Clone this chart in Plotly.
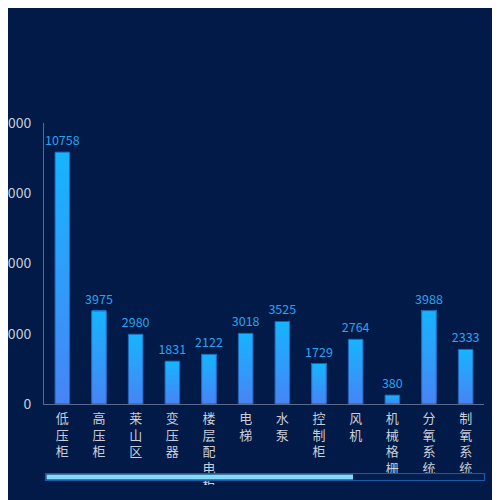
import plotly.graph_objects as go

categories = ["低压柜", "高压柜", "莱山区", "变压器", "楼层配电柜", "电梯", "水泵",
              "控制柜", "风机", "机械格栅", "分氧系统", "制氧系统"]
values = [10758, 3975, 2980, 1831, 2122, 3018, 3525, 1729, 2764, 380, 3988, 2333]
y_ticks = [0, 3000, 6000, 9000, 12000]

BG = "#011a48"
TOP = (0x17, 0xb4, 0xff)
BOT = (0x47, 0x85, 0xf5)
N = 40

fig = go.Figure()

def mix(t):
    r = [round(BOT[k] + (TOP[k] - BOT[k]) * t) for k in range(3)]
    return "rgb(%d,%d,%d)" % tuple(r)

# gradient: each layer spans from a rising base up to the bar top
for i in range(N):
    fig.add_trace(go.Bar(
        x=categories,
        y=[v * (N - i) / N for v in values],
        base=[v * i / N for v in values],
        marker=dict(color=mix(i / (N - 1)), line=dict(width=0)),
        hoverinfo="skip", showlegend=False,
    ))

fig.add_trace(go.Bar(
    x=categories, y=values,
    marker=dict(color="rgba(0,0,0,0)", line=dict(color="#1f5cab", width=1)),
    text=[str(v) for v in values], textposition="outside", constraintext="none",
    textfont=dict(color="#2aa3f0", size=12.5, family="Noto Sans CJK SC"),
    cliponaxis=False, showlegend=False,
))

label_color = "#c9cdd6"

OFF = 8  # page body margin
L, R, T, B = 36, 24, 115, 104
W, H = 500 - L - R, 500 - T - B

def px(xp):
    return (xp - OFF - L) / W

def py(yp):
    return (500 - B - (yp - OFF)) / H

shapes = [
    dict(type="rect", xref="paper", yref="paper", x0=px(0), x1=px(520), y0=py(485), y1=py(520),
         fillcolor=BG, line=dict(width=0), layer="above"),
    dict(type="rect", xref="paper", yref="paper", x0=px(45.5), x1=px(484.5), y0=py(473.5), y1=py(480.5),
         fillcolor="#021d4e", line=dict(color="#1b5aa5", width=1.2), layer="above"),
    dict(type="rect", xref="paper", yref="paper", x0=px(46.5), x1=px(353), y0=py(474.5), y1=py(479.5),
         fillcolor="#82d9f8", line=dict(width=0), layer="above"),
]

fig.update_layout(
    width=500, height=500,
    margin=dict(l=L, r=R, t=T, b=B),
    paper_bgcolor=BG, plot_bgcolor=BG,
    barmode="overlay", bargap=0.6,
    font=dict(family="Noto Sans CJK SC", color=label_color),
    xaxis=dict(showline=True, linecolor="#5b6a88", linewidth=1, showgrid=False,
               tickvals=categories, ticktext=["<br>".join(c) for c in categories],
               tickfont=dict(size=13, color=label_color), tickangle=0,
               ticks="", zeroline=False, automargin=False, ticklabelstandoff=2),
    yaxis=dict(range=[0, 12000], tickvals=y_ticks, ticktext=[str(t) for t in y_ticks],
               showline=True, linecolor="#5b6a88", linewidth=1, showgrid=False, zeroline=False,
               ticks="", ticklabelstandoff=9, automargin=False,
               tickfont=dict(size=14, color=label_color)),
    shapes=shapes,
)

fig.write_html("out.html")
